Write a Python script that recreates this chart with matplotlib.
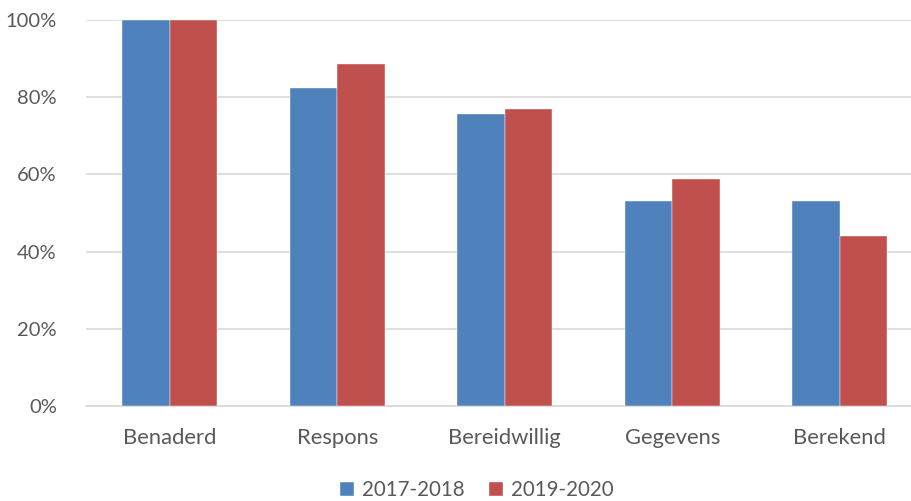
import matplotlib
matplotlib.use("Agg")
import matplotlib.pyplot as plt
import numpy as np
from matplotlib.ticker import FuncFormatter

categories = ["Benaderd", "Respons", "Bereidwillig", "Gegevens", "Berekend"]
series_names = ["2017-2018", "2019-2020"]
values_2017 = [100.0, 82.4, 75.6, 53.0, 53.0]
values_2019 = [100.0, 88.6, 76.9, 58.7, 44.0]
colors = ["#4F81BD", "#C0504D"]

plt.rcParams['font.family'] = ['Lato', 'DejaVu Sans']
text_color = "#595959"

fig = plt.figure(figsize=(9.12, 5.01), dpi=100)
ax = fig.add_axes([86/912, 1 - 406/501, 837.5/912, 386/501])

x = np.arange(len(categories))
w = 0.285
ax.bar(x - w/2, values_2017, w, color=colors[0], label=series_names[0], zorder=3,
       edgecolor="white", linewidth=0.3)
ax.bar(x + w/2, values_2019, w, color=colors[1], label=series_names[1], zorder=3,
       edgecolor="white", linewidth=0.3)

ax.set_xlim(-0.5, len(categories) - 0.5)
ax.set_ylim(0, 100)
ax.set_yticks([0, 20, 40, 60, 80, 100])
ax.yaxis.set_major_formatter(FuncFormatter(lambda v, p: f"{int(v)}%"))
ax.set_xticks(x)
ax.set_xticklabels(categories)
ax.grid(axis='y', color="#D9D9D9", linewidth=1.2, zorder=0)
for s in ["top", "right", "left"]:
    ax.spines[s].set_visible(False)
ax.spines["bottom"].set_color("#D9D9D9")
ax.spines["bottom"].set_linewidth(1.2)
ax.tick_params(axis='y', length=0, labelsize=14.5, colors=text_color, pad=21)
ax.tick_params(axis='x', length=0, labelsize=15.8, colors=text_color, pad=16)

leg = fig.legend(loc="center", bbox_to_anchor=(477/912, 1 - 490/501), ncol=2, frameon=False,
                 fontsize=14.8, handlelength=0.65, handleheight=0.65, handletextpad=0.4,
                 columnspacing=1.2, labelcolor=text_color)

fig.savefig("out.png", dpi=100)
